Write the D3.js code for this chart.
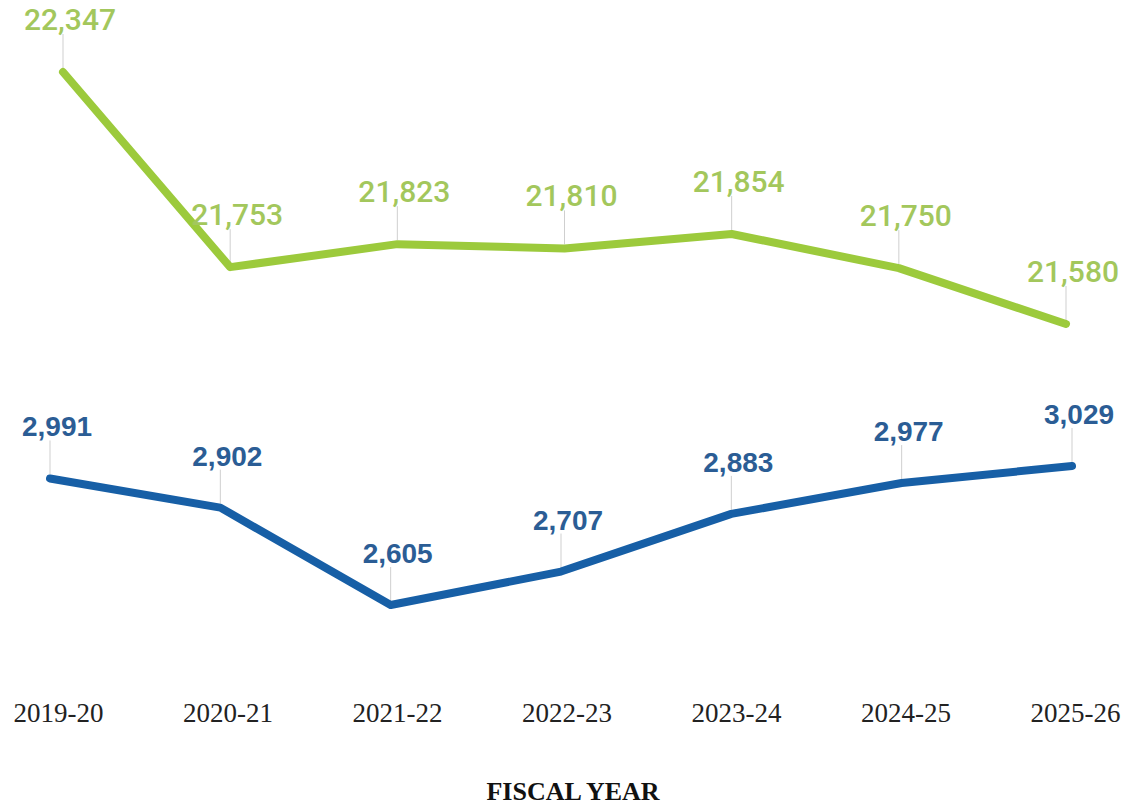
<!DOCTYPE html>
<html>
<head>
<meta charset="utf-8">
<script src="https://cdn.jsdelivr.net/npm/d3@7"></script>
<style>
    body { margin: 0; background: #fff; }
    svg { display: block; }
</style>
</head>
<body>
<div id="chart"></div>
<script>
const fiscalYears = ['2019-20', '2020-21', '2021-22', '2022-23', '2023-24', '2024-25', '2025-26'];
const greenValues = [22347, 21753, 21823, 21810, 21854, 21750, 21580];
const blueValues = [2991, 2902, 2605, 2707, 2883, 2977, 3029];

const colors = {
    greenLine: '#9cca3c',
    greenText: '#a3c75c',
    blueLine: '#175fa6',
    blueText: '#2b5d95',
    leader: '#cfcfcf'
};

const width = 1135, height = 805;
const fmt = d3.format(',');

const svg = d3.select('#chart')
    .append('svg')
    .attr('width', width)
    .attr('height', height);

// category positions
const xAxisScale = d3.scalePoint().domain(fiscalYears).range([58, 1075]);
const xGreen = d3.scalePoint().domain(fiscalYears).range([63, 1066]);
const xBlue = d3.scalePoint().domain(fiscalYears).range([50, 1072]);

// both series share the same px per unit, on a broken axis
const yGreen = d3.scaleLinear().domain([21580, 22347]).range([324, 72]);
const yBlue = d3.scaleLinear().domain([2605, 3029]).range([605, 466]);

function drawSeries(values, x, y, lineColor, textColor, font) {
    const g = svg.append('g');
    const pts = values.map((v, i) => ({ cat: fiscalYears[i], v: v }));

    g.selectAll('line.leader')
        .data(pts)
        .join('line')
        .attr('class', 'leader')
        .attr('x1', d => x(d.cat))
        .attr('x2', d => x(d.cat))
        .attr('y1', d => y(d.v) - 38)
        .attr('y2', d => y(d.v) - 4)
        .style('stroke', colors.leader)
        .style('stroke-width', 1);

    g.append('path')
        .datum(pts)
        .attr('d', d3.line().x(d => x(d.cat)).y(d => y(d.v)))
        .style('fill', 'none')
        .style('stroke', lineColor)
        .style('stroke-width', 8)
        .style('stroke-linecap', 'round')
        .style('stroke-linejoin', 'round');

    g.selectAll('text.value')
        .data(pts)
        .join('text')
        .attr('class', 'value')
        .attr('x', d => x(d.cat) + 7)
        .attr('y', d => y(d.v) - 42)
        .style('text-anchor', 'middle')
        .style('font-family', font.family)
        .style('font-weight', font.weight)
        .style('font-size', font.size)
        .style('fill', textColor)
        .text(d => fmt(d.v));
}

drawSeries(greenValues, xGreen, yGreen, colors.greenLine, colors.greenText,
    { family: 'Roboto, sans-serif', weight: 500, size: '30px' });
drawSeries(blueValues, xBlue, yBlue, colors.blueLine, colors.blueText,
    { family: '"Liberation Sans", Arial, sans-serif', weight: 700, size: '28px' });

// x axis labels, no domain or ticks
const xAxis = svg.append('g')
    .attr('transform', 'translate(0, 700)')
    .call(d3.axisBottom(xAxisScale).tickSize(0).tickPadding(0));
xAxis.select('.domain').remove();
xAxis.selectAll('text')
    .attr('dy', '0.8em')
    .style('font-family', '"Liberation Serif", "Times New Roman", serif')
    .style('font-size', '27px')
    .style('fill', '#222');

svg.append('text')
    .attr('x', 573)
    .attr('y', 800)
    .style('text-anchor', 'middle')
    .style('font-family', '"Liberation Serif", "Times New Roman", serif')
    .style('font-weight', 700)
    .style('font-size', '26px')
    .style('fill', '#111')
    .text('FISCAL YEAR');
</script>
</body>
</html>
